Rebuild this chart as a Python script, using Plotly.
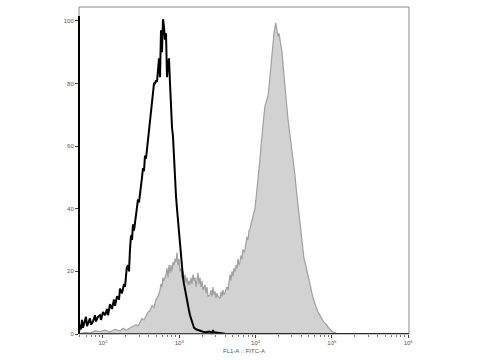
import plotly.graph_objects as go

# Instrument channel scale: channel -> log10(FITC-A intensity)
LOG_MIN = 1.686
CH_PER_DECADE = 76.3

x_tick_labels = ["10<sup>2</sup>", "10<sup>3</sup>", "10<sup>4</sup>", "10<sup>5</sup>", "10<sup>6</sup>"]
x_tick_values = [1e2, 1e3, 1e4, 1e5, 1e6]
y_tick_values = [0, 20, 40, 60, 80, 100]

# Control (black line) histogram: channel, count (% of max)
control_ch = [0, 1, 2, 3, 4, 5, 7, 8, 9, 11, 12, 14, 16, 17, 19, 21, 22, 24, 26, 28, 29, 31,
              33, 35, 36, 38, 40, 41, 43, 45, 46, 47.7, 49, 50, 51, 52, 53, 54, 55, 57, 58,
              59, 60, 62, 63, 64, 65, 66, 67, 68, 69, 70, 71, 72, 73, 74, 75, 76, 77, 78, 79,
              80, 81, 82, 83, 84, 85, 86, 87, 88, 89, 90, 91, 92, 93, 94, 95, 96, 97, 98, 99,
              100, 101, 102, 103, 104, 105, 106, 107, 108, 109, 110, 111, 112, 113, 114, 115,
              117, 119, 121, 124, 127, 130, 133, 134, 135, 138, 141, 146, 151, 330]
control_cnt = [0.5, 3, 1.5, 4.5, 2, 3, 5.5, 2.5, 3.5, 5, 3, 4, 6, 4, 5.5, 6, 4.5, 7, 6, 8, 6, 9.5,
               8, 11, 9, 12, 11, 14.5, 13, 16, 15, 21, 22, 20, 27, 31.5, 30, 35, 33, 38, 40,
               43, 42, 49, 50, 53, 52, 57, 56, 59, 62, 66, 68, 72, 75, 79, 80, 80, 81, 80.5, 84,
               88, 82, 97, 90, 100.5, 98, 94, 96, 82, 86, 88, 80, 72, 66, 63, 55, 49, 44, 40, 36,
               31, 27, 24, 20, 18, 16, 14, 13, 11, 9, 7.5, 6, 5, 3.5, 3, 2,
               1.5, 1.2, 1, 0.7, 0.6, 0.8, 0.5, 1.2, 0.6, 0.4, 0.3, 0.1, 0, 0]

# Stained sample (grey filled) histogram: channel, count (% of max)
stained_ch = [0, 6, 11, 16, 21, 26, 31, 36, 41, 44, 47, 51, 54, 57, 59, 61, 63, 65, 67, 69, 71,
              73, 75, 77, 79, 81, 82, 83, 84, 85, 87, 88, 89, 90, 91, 92, 93, 94, 95, 96, 97,
              98, 99, 100, 101, 102, 103, 104, 105, 106, 107, 108, 109, 110, 111, 112, 113,
              114, 115, 116, 117, 118, 119, 120, 121, 122, 123, 124, 126, 127, 128, 129, 131,
              132, 133, 134, 135, 136, 137, 138, 139, 141, 142, 143, 144, 145, 146, 148, 149,
              150, 151, 152, 153, 154, 155, 156, 157, 158, 159, 160, 161, 162, 163, 164, 165,
              166, 167, 168, 169, 170, 171, 172, 173, 174, 175, 176, 177, 178, 179, 180, 181,
              182, 183, 184, 185, 186, 187, 188, 189, 190, 191, 192, 193, 194, 195, 196, 196.7,
              197.5, 198, 199, 200, 201, 202, 203, 204, 205, 206, 207, 208, 209, 210, 211, 212,
              213, 214, 215, 216, 217, 218, 219, 220, 221, 222, 223, 224, 225, 226, 227, 228,
              229, 230, 231, 232, 233, 234, 235, 236, 237, 238, 239, 240, 241, 242, 243, 244,
              245, 246, 247, 248, 249, 250, 251, 252, 253, 255, 257, 259, 330]
stained_cnt = [0, 0.5, 0.3, 1, 0.8, 1.2, 0.6, 1.5, 1, 1.8, 1.2, 2, 2.5, 3, 2.5, 4, 5, 4.5, 6, 7, 7.5,
               9, 8.5, 11, 12, 14, 16, 15, 18, 17, 19, 21, 18, 22, 19.5, 22, 20, 23, 22, 24, 23,
               26, 22, 24, 20, 21, 18, 20, 17, 19, 16.5, 18, 15.5, 17, 15.7, 18, 16,
               19, 17, 18, 15, 17.5, 19.5, 16, 18, 15, 17, 14, 15.7, 13, 15, 12, 12.5,
               14, 12, 15, 12.5, 13.6, 11.5, 13, 12, 11.4, 13.5, 12, 14, 12.5, 13.6, 15, 14,
               17, 19, 17, 20, 18.5, 21, 20, 22, 21, 24, 22, 23, 25, 24, 27, 26,
               27, 29, 31, 30, 33, 33.6, 35, 37, 38, 39, 40, 43, 45, 49, 52, 56,
               60, 64, 68, 70, 72.8, 74, 75, 76, 79, 83, 86, 89, 92, 96, 98, 99.3,
               98, 97, 95, 96, 94, 93, 90, 86, 83, 80, 76, 72, 68.6, 66, 64, 62,
               60, 57, 54, 50.6, 47, 44, 41, 38, 35, 31, 28, 26, 24, 23, 21.5, 20.5,
               18, 16.5, 15, 14, 13, 11.5, 10.5, 9.5, 8.8, 8, 7, 6.5, 5.8, 5.2, 4.8, 4.2,
               3.8, 3.5, 3.2, 2.8, 2.2, 1.8, 1.4, 1.1, 0.8, 0.5, 0.3, 0, 0]


def to_intensity(ch_list):
    return [10 ** (LOG_MIN + c / CH_PER_DECADE) for c in ch_list]


fig = go.Figure()
fig.add_trace(go.Scatter(
    x=to_intensity(stained_ch), y=stained_cnt, mode="lines",
    line=dict(color="#a0a0a0", width=1.2), fill="tozeroy", fillcolor="#d2d2d2",
    showlegend=False, hoverinfo="skip"))
fig.add_trace(go.Scatter(
    x=to_intensity(control_ch), y=control_cnt, mode="lines",
    line=dict(color="#000000", width=2), showlegend=False, hoverinfo="skip"))

fig.update_layout(
    width=480, height=360,
    margin=dict(l=79, r=71, t=7, b=24),
    paper_bgcolor="white", plot_bgcolor="white",
    font=dict(family="Liberation Sans, Arial, sans-serif", size=6, color="#444"),
    xaxis=dict(
        type="log", range=[LOG_MIN, LOG_MIN + 330 / CH_PER_DECADE],
        tickvals=x_tick_values, ticktext=x_tick_labels,
        ticks="outside", ticklen=3, tickcolor="#444", tickwidth=1,
        minor=dict(ticks="outside", ticklen=2, tickcolor="#777", dtick="D1"),
        showgrid=False, zeroline=False, showline=False,
        tickfont=dict(size=6, color="#555"),
        title=dict(text="FL1-A :: FITC-A", font=dict(size=6, color="#555"), standoff=3),
    ),
    yaxis=dict(
        range=[0, 104.4], tickvals=y_tick_values,
        ticks="outside", ticklen=3, tickcolor="#444", tickwidth=1,
        showgrid=False, zeroline=False, showline=False,
        tickfont=dict(size=6, color="#555"),
    ),
    shapes=[
        dict(type="rect", xref="paper", yref="paper", x0=0, y0=0, x1=1, y1=1,
             line=dict(color="#8a8a8a", width=1), layer="above"),
        dict(type="line", xref="paper", yref="y", x0=0, x1=0, y0=0, y1=101.5,
             line=dict(color="#000000", width=2), layer="above"),
        dict(type="line", xref="paper", yref="y", x0=0, x1=1, y0=0, y1=0,
             line=dict(color="#222222", width=1.5), layer="above"),
    ],
)

fig.write_html("out.html")
